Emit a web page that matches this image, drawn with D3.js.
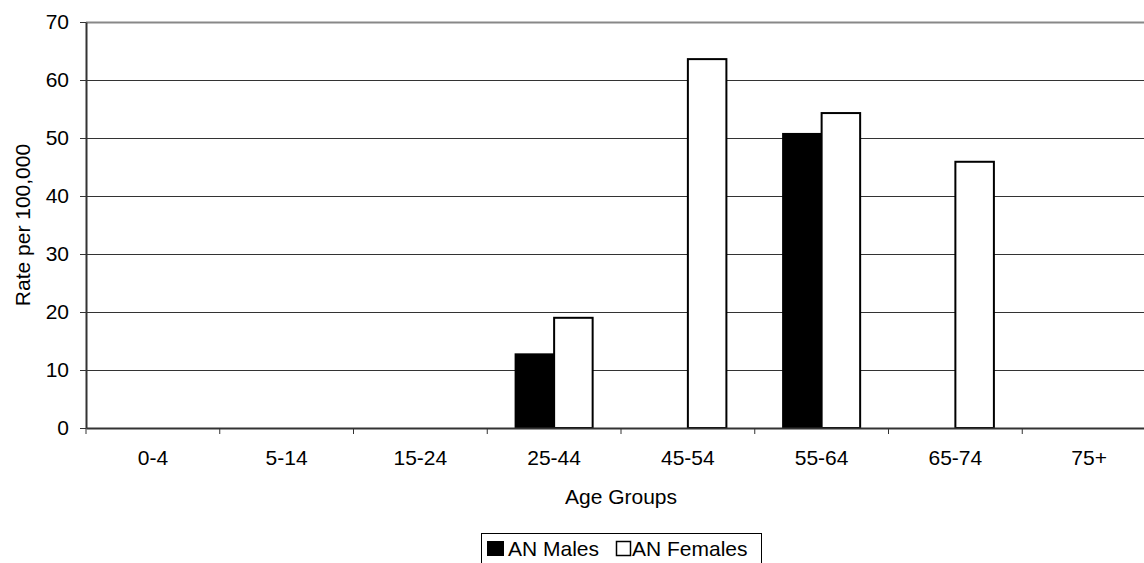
<!DOCTYPE html>
<html><head><meta charset="utf-8">
<script src="https://cdn.jsdelivr.net/npm/d3@7"></script>
<style>body{margin:0;background:#fff}svg{display:block;font-family:"Liberation Sans",Arial,sans-serif}</style>
</head><body><svg id="c" width="1144" height="563"></svg>
<script>
const categories = ["0-4","5-14","15-24","25-44","45-54","55-64","65-74","75+"];
const seriesNames = ["AN Males","AN Females"];
const males   = [null,null,null,12.7,null,50.7,null,null];
const females = [null,null,null,19.0,63.6,54.3,45.9,null];
const yTicks = [0,10,20,30,40,50,60,70];

const svg = d3.select("#c");
const m = {l:86, t:22, r:1156, b:428};
const x = d3.scaleBand().domain(categories).range([m.l, m.r]).padding(0);
const xs = d3.scaleBand().domain(seriesNames).range([0, x.bandwidth()]).paddingInner(0).paddingOuter(0.736);
const y = d3.scaleLinear().domain([0,70]).range([m.b, m.t]);

// gridlines
svg.append("g").selectAll("line").data(yTicks.filter(d=>d>0 && d<70)).join("line")
  .attr("x1", m.l).attr("x2", m.r).attr("y1", d=>y(d)+0.5).attr("y2", d=>y(d)+0.5)
  .attr("stroke", "#333").attr("stroke-width", 1);
// top border
svg.append("line").attr("x1", m.l).attr("x2", m.r).attr("y1", y(70)+0.5).attr("y2", y(70)+0.5)
  .attr("stroke", "#888").attr("stroke-width", 2);

// bars
const data = [];
categories.forEach((c,i)=>{
  if (males[i] != null) data.push({c, s:"AN Males", v:males[i]});
  if (females[i] != null) data.push({c, s:"AN Females", v:females[i]});
});
svg.append("g").selectAll("rect").data(data).join("rect")
  .attr("x", d=>x(d.c)+xs(d.s))
  .attr("y", d=>y(d.v))
  .attr("width", xs.bandwidth())
  .attr("height", d=>y(0)-y(d.v))
  .attr("fill", d=>d.s==="AN Males" ? "#000" : "#fff")
  .attr("stroke", "#000").attr("stroke-width", 2);

// y axis
const ya = svg.append("g").attr("transform", `translate(${m.l},0)`)
  .call(d3.axisLeft(y).tickValues(yTicks).tickSize(6).tickPadding(11).tickSizeOuter(0));
ya.select(".domain").attr("stroke", "#333").attr("stroke-width", 2);
ya.selectAll(".tick line").attr("stroke", "#333");
ya.selectAll("text").attr("font-size", 21).attr("fill", "#000").attr("font-family", "Liberation Sans, Arial, sans-serif");

// x axis
const xa = svg.append("g").attr("transform", `translate(0,${m.b})`)
  .call(d3.axisBottom(x).tickSize(0).tickPadding(22).tickSizeOuter(0));
xa.select(".domain").attr("stroke", "#333").attr("stroke-width", 2);
xa.selectAll("text").attr("font-size", 21).attr("fill", "#000").attr("font-family", "Liberation Sans, Arial, sans-serif");
// band boundary ticks
svg.append("g").selectAll("line").data(categories).join("line")
  .attr("x1", d=>x(d)).attr("x2", d=>x(d)).attr("y1", m.b).attr("y2", m.b+6)
  .attr("stroke", "#333").attr("stroke-width", 1);

// axis titles
svg.append("text").attr("x", (m.l+m.r)/2).attr("y", 504).attr("text-anchor","middle")
  .attr("font-size", 21).text("Age Groups");
svg.append("text").attr("transform", `translate(30,${(m.t+m.b)/2}) rotate(-90)`)
  .attr("text-anchor","middle").attr("font-size", 21).text("Rate per 100,000");

// legend
const lg = svg.append("g");
lg.append("rect").attr("x", 481.5).attr("y", 533.5).attr("width", 280).attr("height", 40)
  .attr("fill", "#fff").attr("stroke", "#000").attr("stroke-width", 1);
lg.append("rect").attr("x", 487).attr("y", 541).attr("width", 17).attr("height", 15).attr("fill", "#000");
lg.append("text").attr("x", 508).attr("y", 556).attr("font-size", 21).text(seriesNames[0]);
lg.append("rect").attr("x", 616.5).attr("y", 541.5).attr("width", 14).attr("height", 14)
  .attr("fill", "#fff").attr("stroke", "#000").attr("stroke-width", 1.5);
lg.append("text").attr("x", 632).attr("y", 556).attr("font-size", 21).text(seriesNames[1]);
</script></body></html>
